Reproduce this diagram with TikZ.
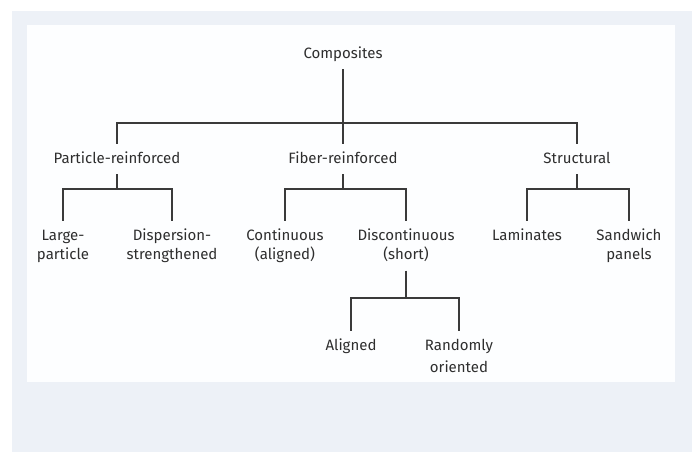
\documentclass[tikz,border=0pt]{standalone}
\usepackage{fontspec}
\setmainfont{Fira Sans}
\definecolor{panelbg}{HTML}{EDF1F7}
\definecolor{inner}{HTML}{FDFEFF}
\definecolor{ink}{HTML}{2E2E2E}
\definecolor{wire}{HTML}{3A3A3A}
\newcommand\mytopstrut{\rule{0pt}{12pt}}
\newcommand\mybotstrut{\rule[-4pt]{0pt}{4pt}}
\begin{document}
\begin{tikzpicture}[x=1pt,y=-1pt,
  lbl/.style={anchor=base,align=center,text=ink,inner xsep=2pt,inner ysep=7pt,
    font=\fontsize{15}{19.5}\selectfont},
  lbltall/.style={lbl,font=\fontsize{15}{22}\selectfont},
  wirestyle/.style={draw=wire,line width=1.6pt}]
\useasboundingbox (0,0) rectangle (692,452);
\fill[white] (0,0) rectangle (692,452);
\fill[panelbg] (12,11) rectangle (692,452);
\fill[inner] (27,25) rectangle (675,382);
% nodes (anchor = baseline of last line)
\node[lbl] (comp) at (343,58) {\mytopstrut Composites\mybotstrut};
\node[lbl] (part) at (117,163) {\mytopstrut Particle-reinforced\mybotstrut};
\node[lbl] (fiber) at (343,163) {\mytopstrut Fiber-reinforced\mybotstrut};
\node[lbl] (struct) at (577,163) {\mytopstrut Structural\mybotstrut};
\node[lbl] (large) at (63,259.5) {\mytopstrut Large-\\particle\mybotstrut};
\node[lbl] (disp) at (172,259.5) {\mytopstrut Dispersion-\\strengthened\mybotstrut};
\node[lbl] (cont) at (285,259.5) {\mytopstrut Continuous\\(aligned)\mybotstrut};
\node[lbl] (disc) at (406,259.5) {\mytopstrut Discontinuous\\(short)\mybotstrut};
\node[lbl] (lam) at (527,240) {\mytopstrut Laminates\mybotstrut};
\node[lbl] (sand) at (629,259.5) {\mytopstrut Sandwich\\panels\mybotstrut};
\node[lbltall] (align) at (351,350) {\mytopstrut Aligned\mybotstrut};
\node[lbltall] (rand) at (459,372) {\mytopstrut Randomly\\oriented\mybotstrut};
% bar junctions
\coordinate (b0) at (343,123);
\coordinate (b1) at (117,189);
\coordinate (b2) at (343,189);
\coordinate (b3) at (577,189);
\coordinate (b4) at (406,298);
% connectors
\draw[wirestyle] (comp.south) -- (b0);
\draw[wirestyle] (part.north) |- (b0) -| (struct.north);
\draw[wirestyle] (fiber.north) -- (b0);
\draw[wirestyle] (part.south) -- (b1);
\draw[wirestyle] (large.north) |- (b1) -| (disp.north);
\draw[wirestyle] (fiber.south) -- (b2);
\draw[wirestyle] (cont.north) |- (b2) -| (disc.north);
\draw[wirestyle] (struct.south) -- (b3);
\draw[wirestyle] (lam.north) |- (b3) -| (sand.north);
\draw[wirestyle] (disc.south) -- (b4);
\draw[wirestyle] (align.north) |- (b4) -| (rand.north);
\end{tikzpicture}
\end{document}
